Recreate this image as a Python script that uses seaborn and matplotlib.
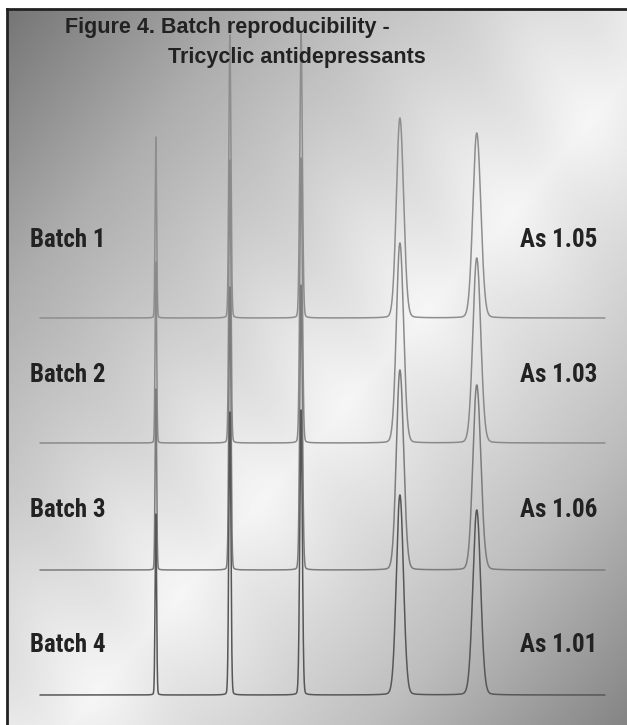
import numpy as np
import pandas as pd
import seaborn as sns
import matplotlib.pyplot as plt
from matplotlib import font_manager

# retention times (min), peak heights (AU, batch 1) and widths (min)
peak_times = [2.05, 3.36, 4.62, 6.37, 7.73]
peak_heights = [0.905, 1.415, 1.425, 1.00, 0.925]
peak_sigmas = [0.013, 0.018, 0.022, 0.062, 0.068]

batches = ["Batch 1", "Batch 2", "Batch 3", "Batch 4"]
asym = ["As 1.05", "As 1.03", "As 1.06", "As 1.01"]
as_values = [1.05, 1.03, 1.06, 1.01]
batch_offsets = [1.885, 1.26, 0.625, 0.0]
line_colors = ["#8e8e8e", "#8a8a8a", "#7c7c7c", "#575757"]

sns.set_theme(style="white")
installed = {f.name for f in font_manager.fontManager.ttflist}
narrow = [n for n in ["Roboto Condensed", "Liberation Sans Narrow", "Open Sans Condensed"] if n in installed]
print(narrow)
if narrow:
    label_font, label_size = [narrow[0], 'DejaVu Sans'], 18
else:
    label_font, label_size = ['Liberation Sans', 'DejaVu Sans'], 15
plt.rcParams['font.family'] = ['Liberation Sans', 'DejaVu Sans']

W, H = 627, 725
fig = plt.figure(figsize=(W / 100, H / 100), dpi=100)
fig.patch.set_facecolor("white")

# brushed metal style background
bg = fig.add_axes([7 / W, 0, (W - 7) / W, (H - 9) / H])
xx, yy = np.meshgrid(np.linspace(0, 1, 400), np.linspace(0, 1, 460))
t = (xx + yy) / 2
grad = np.interp(t, [0, 0.2, 0.45, 0.55, 0.8, 1.0], [0.46, 0.68, 0.88, 0.95, 0.74, 0.52])
grad += 0.015 * np.sin((xx * 1.15 - yy) * 22) * np.exp(-((t - 0.5) / 0.15) ** 2)
bg.imshow(grad, cmap="gray", vmin=0, vmax=1, aspect="auto", extent=[0, 1, 0, 1], origin="upper")
bg.set_xticks([])
bg.set_yticks([])
for side in ["right", "bottom"]:
    bg.spines[side].set_visible(False)
for side in ["left", "top"]:
    bg.spines[side].set_color("#222222")
    bg.spines[side].set_linewidth(2.0)

# chromatograms
time = np.linspace(0, 10, 30000)
frames = []
for b, off, a in zip(batches, batch_offsets, as_values):
    sig = np.zeros_like(time)
    for tr, h, s in zip(peak_times, peak_heights, peak_sigmas):
        d = time - tr
        sd = np.where(d > 0, s * a, s)
        gauss = np.exp(-0.5 * (d / sd) ** 2)
        lor = 1 / (1 + (d / (1.5 * sd)) ** 2)
        sig += h * (0.96 * gauss + 0.04 * lor)
    frames.append(pd.DataFrame({"time": time, "signal": sig + off, "batch": b}))
df = pd.concat(frames, ignore_index=True)

ax = fig.add_axes([0, 0, 1, 1])
ax.patch.set_alpha(0)
sns.lineplot(data=df, x="time", y="signal", hue="batch", palette=dict(zip(batches, line_colors)),
             estimator=None, sort=False, linewidth=1.1, legend=False, ax=ax)
ax.set_xlim(-40 / 56.5, 587 / 56.5)
ax.set_ylim(-30 / 200, 695 / 200)
ax.axis("off")

label_y = [240, 375, 510, 645]
for b, a, y in zip(batches, asym, label_y):
    fig.text(30 / W, 1 - y / H, b, fontsize=label_size, fontweight="bold", family=label_font,
             color="#222222", va="center", ha="left")
    fig.text(597 / W, 1 - y / H, a, fontsize=label_size, fontweight="bold", family=label_font,
             color="#222222", va="center", ha="right")

fig.text(65 / W, 1 - 28 / H, "Figure 4. Batch reproducibility -", fontsize=15.5, fontweight="bold",
         color="#222222", va="center", ha="left")
fig.text(168 / W, 1 - 58 / H, "Tricyclic antidepressants", fontsize=15.5, fontweight="bold",
         color="#222222", va="center", ha="left")

fig.savefig("out.png", dpi=100)
